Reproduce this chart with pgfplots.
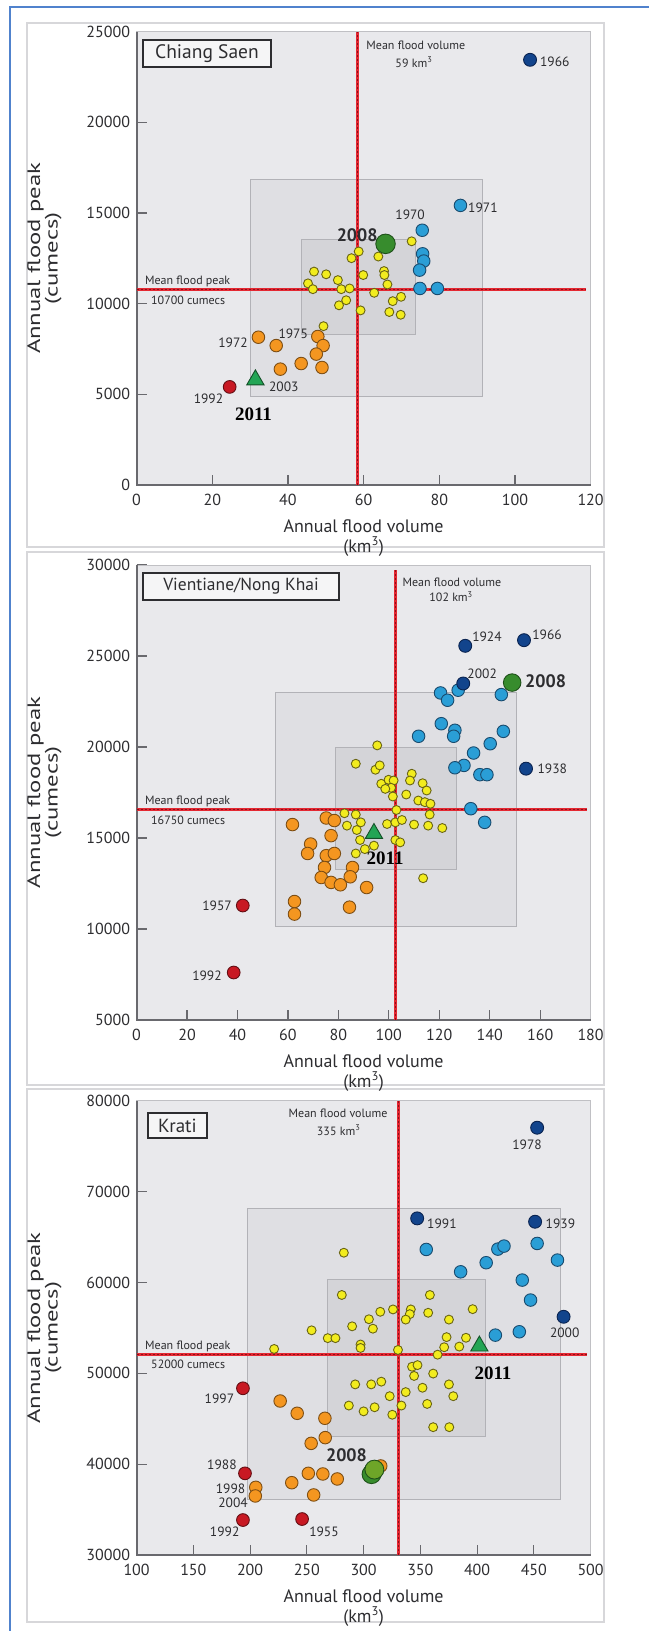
\documentclass[border=0pt]{standalone}
\usepackage{pgfplots}
\pgfplotsset{compat=1.18}
\usepackage{fontspec}
\setmainfont{PT Sans}
\newfontfamily\serifb{Liberation Serif}
\newcommand{\fs}[1]{\fontsize{#1bp}{#1bp}\selectfont}
\definecolor{bgc}{RGB}{233,233,236}
\definecolor{boxa}{RGB}{223,223,227}
\definecolor{boxb}{RGB}{212,212,216}
\definecolor{boxedge}{RGB}{178,178,183}
\definecolor{framec}{RGB}{192,192,196}
\definecolor{axdark}{RGB}{105,105,110}
\definecolor{meanred}{RGB}{228,40,50}
\definecolor{meandark}{RGB}{140,15,25}
\definecolor{yelc}{RGB}{242,236,30}
\definecolor{yele}{RGB}{105,100,20}
\definecolor{orac}{RGB}{244,150,32}
\definecolor{orae}{RGB}{125,78,20}
\definecolor{bluc}{RGB}{42,158,214}
\definecolor{blue2}{RGB}{25,75,110}
\definecolor{dbluc}{RGB}{18,68,140}
\definecolor{dblue2}{RGB}{10,35,80}
\definecolor{redc}{RGB}{200,25,35}
\definecolor{rede}{RGB}{100,15,20}
\definecolor{grnc}{RGB}{55,140,45}
\definecolor{grne}{RGB}{30,80,25}
\definecolor{olvc}{RGB}{110,165,40}
\definecolor{tric}{RGB}{35,165,85}
\definecolor{trie}{RGB}{20,80,40}
\definecolor{bluebord}{RGB}{80,130,205}
\definecolor{panelbord}{RGB}{215,215,218}
\definecolor{txt}{RGB}{45,45,48}
\pgfplotsset{
  panel/.style={scale only axis, width=454bp, clip=false,
    axis background/.style={fill=bgc},
    axis line style={draw=framec, line width=1bp},
    tick pos=left, tick align=inside, major tick length=10bp,
    tick style={draw=axdark, line width=1.2bp},
    xticklabel style={font=\fs{16}, text=txt, yshift=-6bp},
    yticklabel style={font=\fs{16}, text=txt, xshift=-3bp},
    /pgf/number format/assume math mode=true,
    /pgf/number format/1000 sep={}, scaled ticks=false,
    xlabel={Annual flood volume\\(km\textsuperscript{3})},
    ylabel={\scalebox{1.37}[1]{Annual flood peak}\\\scalebox{1.37}[1]{(cumecs)}},
    xlabel style={align=center, font=\fontsize{18bp}{20bp}\selectfont, text=txt, inner sep=0pt,
      at={(axis description cs:0.5,0)}, anchor=north, yshift=-34bp},
    ylabel style={align=center, font=\fontsize{18bp}{15bp}\selectfont, text=txt, inner sep=0pt,
      at={(axis description cs:-0.203,0.5)}, anchor=center},
  },
  yel/.style={only marks, mark=*, mark size=4.5pt, mark options={fill=yelc, draw=yele, line width=0.9bp}},
  ora/.style={only marks, mark=*, mark size=6.3pt, mark options={fill=orac, draw=orae, line width=0.9bp}},
  blu/.style={only marks, mark=*, mark size=6.3pt, mark options={fill=bluc, draw=blue2, line width=0.9bp}},
  dblu/.style={only marks, mark=*, mark size=6.5pt, mark options={fill=dbluc, draw=dblue2, line width=0.9bp}},
  red/.style={only marks, mark=*, mark size=6.4pt, mark options={fill=redc, draw=rede, line width=0.9bp}},
  grn/.style={only marks, mark=*, mark size=9.8pt, mark options={fill=grnc, draw=grne, line width=0.9bp}},
  tri/.style={only marks, mark=triangle*, mark size=10pt, mark options={fill=tric, draw=trie, line width=0.9bp}},
  boxo/.style={fill=boxa, draw=boxedge, line width=1bp},
  boxi/.style={fill=boxb, draw=boxedge, line width=1bp},
  mline/.style={draw=meanred, line width=3.2bp},
  mdash/.style={draw=meandark, line width=1bp, dash pattern=on 2bp off 2bp},
}
\tikzset{
  yr/.style={font=\fs{13.5}, text=txt, inner sep=0pt},
  sm/.style={font=\fs{12}, text=txt, inner sep=0pt},
  bsans/.style={font=\fs{18}\bfseries, text=txt, inner sep=0pt},
  bser/.style={font=\fs{19}\serifb\bfseries, text=black, inner sep=0pt},
  namebox/.style={draw=txt, line width=1.5bp, fill=white!55!bgc, text=txt, inner sep=0pt},
}
\begin{document}
\begin{tikzpicture}
\path[use as bounding box] (0,0) rectangle (649bp,-1631bp);
\begin{scope}[x=1bp,y=-1bp]
\draw[panelbord, line width=1.5bp, fill=white] (27,23) rectangle (604,547);
\draw[panelbord, line width=1.5bp, fill=white] (27,552) rectangle (604,1085);
\draw[panelbord, line width=1.5bp, fill=white] (27,1089) rectangle (604,1622);
\draw[bluebord, line width=2bp] (10,1640) -- (10,7) -- (660,7);
\end{scope}

% ---------------- Panel 1: Chiang Saen
\begin{axis}[panel, at={(136.6bp,-485bp)}, anchor=south west, height=453.3bp,
  xmin=0, xmax=120, ymin=0, ymax=25000,
  xtick={0,20,...,120}, ytick={0,5000,...,25000}]
\addplot[boxo] coordinates {(30,4900) (91.4,4900) (91.4,16830) (30,16830)} -- cycle;
\addplot[boxi] coordinates {(43.5,8280) (73.6,8280) (73.6,13530) (43.5,13530)} -- cycle;
\draw[axdark, line width=2bp] (rel axis cs:0,1) -- (rel axis cs:0,0) -- (rel axis cs:1,0);
\addplot[mline] coordinates {(58.4,0) (58.4,25000)};
\addplot[mdash] coordinates {(58.4,0) (58.4,25000)};
\addplot[mline] coordinates {(0,10800) (118.7,10800)};
\addplot[mdash] coordinates {(0,10800) (118.7,10800)};
\addplot[ora] coordinates {(32.2,8150) (36.9,7690) (38,6390) (43.5,6700) (47.9,8190) (49.3,7690) (47.5,7220) (49,6480)};
\addplot[yel] coordinates {(72.7,13440) (58.7,12880) (56.8,12510) (63.9,12600) (65.4,11800) (65.5,11580) (46.9,11770) (50.1,11620) (59.9,11580) (53.2,11300) (45.3,11120) (46.6,10800) (54.1,10800) (56.3,10840) (66.3,11060) (62.8,10600) (69.9,10380) (67.7,10140) (55.4,10190) (53.5,9910) (59.2,9630) (66.8,9540) (69.8,9390) (49.4,8760)};
\addplot[blu] coordinates {(85.6,15420) (75.5,14050) (75.6,12750) (75.9,12350) (74.8,11850) (74.9,10840) (79.5,10840)};
\addplot[dblu] coordinates {(104,23450)};
\addplot[grn] coordinates {(65.8,13300)};
\addplot[red] coordinates {(24.6,5410)};
\addplot[tri] coordinates {(31.4,5800)};
\node[namebox, font=\fs{19.5}, minimum width=128bp, minimum height=27bp] at (rel axis cs:0.155,0.952) {Chiang Saen};
\node[yr, anchor=west] at (axis cs:106.6,23330) {1966};
\node[yr, anchor=west] at (axis cs:87.6,15290) {1971};
\node[yr] at (axis cs:72.3,14900) {1970};
\node[bsans] at (axis cs:58.3,13800) {2008};
\node[yr] at (axis cs:41.4,8330) {1975};
\node[yr] at (axis cs:25.5,7820) {1972};
\node[yr] at (axis cs:19,4730) {1992};
\node[yr] at (axis cs:38.9,5430) {2003};
\node[bser] at (axis cs:30.9,3920) {2011};
\node[sm] at (axis cs:73.8,24240) {Mean flood volume};
\node[sm] at (axis cs:73.3,23330) {59 km\textsuperscript{3}};
\node[sm, anchor=west] at (axis cs:2.2,11220) {Mean flood peak};
\node[sm, anchor=west] at (axis cs:3.8,10210) {10700 cumecs};
\end{axis}

% ---------------- Panel 2: Vientiane/Nong Khai
\begin{axis}[panel, at={(136.6bp,-1020bp)}, anchor=south west, height=455bp,
  xmin=0, xmax=180, ymin=5000, ymax=30000,
  xtick={0,20,...,180}, ytick={5000,10000,...,30000}]
\addplot[boxo] coordinates {(55.2,10140) (150.8,10140) (150.8,22970) (55.2,22970)} -- cycle;
\addplot[boxi] coordinates {(78.7,13290) (126.7,13290) (126.7,20000) (78.7,20000)} -- cycle;
\draw[axdark, line width=2bp] (rel axis cs:0,1) -- (rel axis cs:0,0) -- (rel axis cs:1,0);
\addplot[mline] coordinates {(102.5,5000) (102.5,29700)};
\addplot[mdash] coordinates {(102.5,5000) (102.5,29700)};
\addplot[mline] coordinates {(0,16550) (178.4,16550)};
\addplot[mdash] coordinates {(0,16550) (178.4,16550)};
\addplot[ora] coordinates {(61.8,15740) (75.2,16100) (78.4,15960) (77.1,15130) (69,14670) (67.8,14150) (75.2,14030) (78.4,14150) (74.5,13380) (85.6,13380) (73.2,12830) (77.1,12560) (80.8,12430) (84.7,12870) (91.2,12280) (62.6,11510) (62.6,10820) (84.4,11200)};
\addplot[yel] coordinates {(95.4,20090) (86.9,19080) (94.7,18750) (96.4,18990) (97,17980) (99.9,18200) (101.9,18160) (100.9,17760) (98.6,17700) (101.6,17280) (106.9,17390) (109.1,18530) (108.4,18160) (113.4,18010) (115,17610) (111.7,17060) (114.3,16970) (116.5,16880) (103,16540) (116.2,16290) (82.4,16360) (86.9,16290) (83.4,15680) (88.9,15860) (87.3,15440) (99.3,15770) (102.6,15860) (105.2,15990) (110,15740) (115.6,15680) (121.2,15550) (88.6,14890) (90.5,14390) (94.1,14580) (86.9,14150) (102.6,14890) (104.5,14760) (113.6,12790)};
\addplot[blu] coordinates {(120.5,22970) (123.3,22570) (127.5,23120) (144.6,22880) (120.8,21280) (126.2,20920) (125.7,20590) (111.8,20590) (145.4,20860) (140.2,20180) (133.6,19670) (129.8,18990) (126.2,18860) (136.1,18480) (138.9,18480) (132.5,16610) (138,15860)};
\addplot[dblu] coordinates {(130.3,25560) (153.6,25870) (129.5,23490) (154.4,18810)};
\addplot[grn, mark size=8.8pt] coordinates {(148.9,23540)};
\addplot[red] coordinates {(42.1,11290) (38.5,7610)};
\addplot[tri] coordinates {(94.1,15250)};
\node[namebox, font=\fs{17.5}, minimum width=196bp, minimum height=27bp] at (rel axis cs:0.23,0.953) {Vientiane/Nong Khai};
\node[yr, anchor=west] at (axis cs:133,26060) {1924};
\node[yr, anchor=west] at (axis cs:156.8,26190) {1966};
\node[yr] at (axis cs:137,24050) {2002};
\node[bsans, anchor=west] at (axis cs:154,23590) {2008};
\node[yr, anchor=west] at (axis cs:158.9,18830) {1938};
\node[bser] at (axis cs:98.5,13860) {2011};
\node[yr] at (axis cs:31.9,11270) {1957};
\node[yr] at (axis cs:27.9,7420) {1992};
\node[sm] at (axis cs:125,29030) {Mean flood volume};
\node[sm] at (axis cs:124.7,28260) {102 km\textsuperscript{3}};
\node[sm, anchor=west] at (axis cs:3.3,17000) {Mean flood peak};
\node[sm, anchor=west] at (axis cs:5.7,15990) {16750 cumecs};
\end{axis}

% ---------------- Panel 3: Krati
\begin{axis}[panel, at={(136.6bp,-1555bp)}, anchor=south west, height=454.3bp,
  xmin=100, xmax=500, ymin=30000, ymax=80000,
  xtick={100,150,...,500}, ytick={30000,40000,...,80000}]
\addplot[boxo] coordinates {(197.3,36060) (473.7,36060) (473.7,68150) (197.3,68150)} -- cycle;
\addplot[boxi] coordinates {(268.4,43030) (407,43030) (407,60370) (268.4,60370)} -- cycle;
\draw[axdark, line width=2bp] (rel axis cs:0,1) -- (rel axis cs:0,0) -- (rel axis cs:1,0);
\addplot[mline] coordinates {(330.8,30000) (330.8,80000)};
\addplot[mdash] coordinates {(330.8,30000) (330.8,80000)};
\addplot[mline] coordinates {(100,52050) (497,52050)};
\addplot[mdash] coordinates {(100,52050) (497,52050)};
\addplot[ora] coordinates {(226.5,46950) (241.5,45600) (265.9,45050) (266.2,42920) (253.8,42290) (251.3,38990) (264.1,38920) (276.8,38370) (236.7,37960) (205,37450) (204.6,36500) (256,36610) (315.1,39800)};
\addplot[yel] coordinates {(282.6,63270) (280.8,58620) (358.4,58620) (396.1,57060) (314.7,56770) (325.9,57030) (341.6,57030) (340.7,56510) (337.1,55910) (356.9,56660) (375.2,55910) (304.7,55950) (308.2,54910) (289.9,55170) (254.2,54730) (268.4,53870) (275.2,53870) (297.3,53170) (297.3,52790) (330.3,52570) (373.1,53980) (371,52870) (390.2,53910) (384.3,52940) (365.2,52050) (221.2,52680) (342.7,50720) (347.5,50900) (344.5,49710) (361.3,49970) (292.6,48780) (306.7,48780) (315.6,49080) (375.2,48780) (323,47480) (337.1,47930) (351.9,48410) (379,47480) (287,46450) (300,45810) (309.7,46260) (333.3,46450) (356,46630) (325.3,45440) (361.3,44070) (375.5,44070)};
\addplot[blu] coordinates {(355.2,63630) (418.3,63670) (423.7,64000) (452.9,64290) (408,62170) (470.8,62460) (385.5,61170) (439.8,60260) (447.1,58060) (437.2,54570) (416.1,54200)};
\addplot[dblu] coordinates {(452.9,77030) (347.2,67050) (451.1,66680) (476.2,56220)};
\addplot[grn, mark size=9.5pt] coordinates {(307,38900)};
\addplot[grn, mark size=9.5pt, mark options={fill=olvc, draw=grne, line width=0.9bp}] coordinates {(309.5,39400)};
\addplot[red] coordinates {(193.7,48350) (195.5,38990) (193.7,33850) (245.8,33960)};
\addplot[tri] coordinates {(402,53000)};
\node[namebox, font=\fs{19}, minimum width=59bp, minimum height=25bp] at (rel axis cs:0.09,0.945) {Krati};
\node[yr] at (axis cs:444,75200) {1978};
\node[yr, anchor=west] at (axis cs:355.9,66430) {1991};
\node[yr, anchor=west] at (axis cs:460.3,66510) {1939};
\node[yr] at (axis cs:477.2,54470) {2000};
\node[bser] at (axis cs:414,50000) {2011};
\node[bsans] at (axis cs:284.9,41000) {2008};
\node[yr] at (axis cs:173,47250) {1997};
\node[yr] at (axis cs:175.2,39980) {1988};
\node[yr] at (axis cs:182.8,37340) {1998};
\node[yr] at (axis cs:185,35760) {2004};
\node[yr] at (axis cs:177.6,32570) {1992};
\node[yr] at (axis cs:265.1,32570) {1955};
\node[sm] at (axis cs:277.5,78610) {Mean flood volume};
\node[sm] at (axis cs:278,76770) {335 km\textsuperscript{3}};
\node[sm, anchor=west] at (axis cs:107.4,53000) {Mean flood peak};
\node[sm, anchor=west] at (axis cs:112.7,50990) {52000 cumecs};
\end{axis}
\end{tikzpicture}
\end{document}
